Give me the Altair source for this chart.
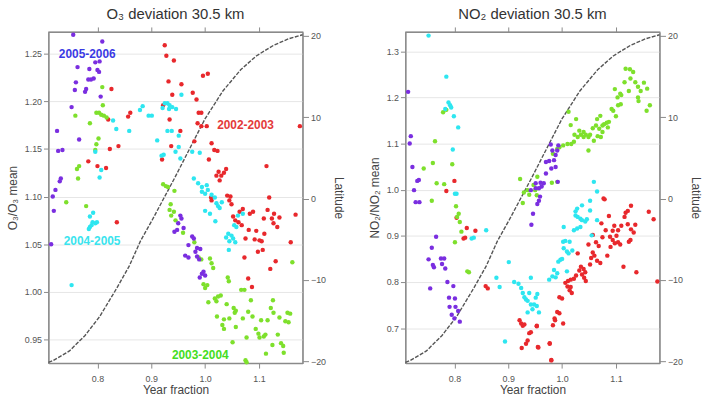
import altair as alt
import pandas as pd

# ---------------------------------------------------------------- data
SEASONS = ["2002-2003", "2003-2004", "2004-2005", "2005-2006"]
SEASON_COLORS = ["#e8282c", "#7ee02c", "#2ee6f0", "#7a2ee0"]

# O3 deviation at 30.5 km: (year fraction, O3 / O3 mean)
o3_0203 = [(0.925, 1.259), (0.928, 1.248), (0.942, 1.243), (0.932, 1.221), (0.956, 1.218),
           (0.939, 1.207), (0.996, 1.227), (1.005, 1.229), (0.977, 1.209), (0.984, 1.202),
           (0.826, 1.213), (0.820, 1.181), (0.857, 1.184), (0.861, 1.188), (0.823, 1.150),
           (0.839, 1.153), (0.783, 1.137), (0.800, 1.132), (0.816, 1.130), (0.922, 1.196),
           (0.934, 1.181), (0.954, 1.169), (0.937, 1.153), (0.920, 1.139), (0.988, 1.188),
           (0.993, 1.188), (0.986, 1.177), (0.993, 1.174), (1.003, 1.174), (0.980, 1.158),
           (1.012, 1.156), (1.017, 1.149), (1.023, 1.148), (1.007, 1.139), (1.025, 1.126),
           (1.021, 1.122), (1.030, 1.122), (1.035, 1.125), (1.039, 1.129), (1.027, 1.117),
           (1.114, 1.132), (1.176, 1.174), (1.041, 1.101), (1.047, 1.100), (1.119, 1.099),
           (1.011, 1.099), (0.836, 1.073), (1.012, 1.096), (1.045, 1.096), (1.049, 1.092),
           (1.070, 1.087), (1.064, 1.084), (1.052, 1.079), (1.056, 1.075), (1.062, 1.073),
           (1.068, 1.070), (1.083, 1.082), (1.089, 1.084), (1.109, 1.077), (1.116, 1.086),
           (1.128, 1.082), (1.124, 1.077), (1.138, 1.078), (1.127, 1.072), (1.134, 1.068),
           (1.168, 1.081), (1.081, 1.065), (1.095, 1.064), (1.110, 1.061), (1.075, 1.056),
           (1.092, 1.055), (1.101, 1.054), (1.105, 1.053), (1.159, 1.052), (1.107, 1.044),
           (1.098, 1.042), (1.073, 1.036), (1.131, 1.032), (1.121, 1.024), (1.080, 1.014),
           (1.087, 1.005)]
o3_0304 = [(0.809, 1.215), (0.810, 1.196), (0.759, 1.185), (0.798, 1.188), (0.803, 1.188),
           (0.807, 1.186), (0.812, 1.185), (0.817, 1.183), (0.786, 1.177), (0.802, 1.161),
           (0.798, 1.155), (0.796, 1.149), (0.766, 1.132), (0.762, 1.129), (0.764, 1.119),
           (0.922, 1.113), (0.927, 1.111), (0.931, 1.110), (0.943, 1.106), (0.742, 1.094),
           (0.779, 1.090), (0.936, 1.092), (0.934, 1.086), (0.942, 1.084), (0.937, 1.080),
           (0.945, 1.075), (0.959, 1.062), (0.980, 1.052), (0.988, 1.036), (0.993, 1.034),
           (1.009, 1.035), (1.012, 1.030), (1.015, 1.025), (1.042, 1.015), (1.044, 1.011),
           (1.000, 1.004), (1.004, 1.007), (0.997, 1.008), (1.067, 1.002), (1.073, 1.002),
           (1.085, 0.991), (1.006, 0.989), (1.018, 0.993), (1.024, 0.995), (1.029, 0.996),
           (1.021, 0.990), (1.040, 0.987), (1.053, 0.983), (1.057, 0.980), (1.055, 0.978),
           (1.022, 0.974), (1.045, 0.972), (1.070, 0.972), (1.080, 0.979), (1.088, 0.974),
           (1.126, 0.991), (1.122, 0.983), (1.127, 0.978), (1.104, 0.970), (1.116, 0.970),
           (1.138, 0.973), (1.153, 0.978), (1.158, 0.977), (1.149, 0.969), (1.155, 0.968),
           (1.162, 1.031), (1.032, 0.965), (1.035, 0.961), (1.057, 0.963), (1.094, 0.961),
           (1.099, 0.956), (1.101, 0.952), (1.109, 0.953), (1.112, 0.955), (1.077, 0.952),
           (1.051, 0.947), (1.135, 0.955), (1.141, 0.946), (1.145, 0.943), (1.125, 0.944),
           (1.146, 0.936), (1.113, 0.935), (1.075, 0.928), (1.077, 0.926), (1.035, 0.971)]
o3_0405 = [(0.956, 1.207), (0.884, 1.195), (0.879, 1.191), (0.895, 1.185), (0.901, 1.185),
           (0.859, 1.169), (0.835, 1.171), (0.925, 1.198), (0.930, 1.198), (0.934, 1.196),
           (0.939, 1.194), (0.921, 1.193), (0.933, 1.192), (0.946, 1.192), (0.930, 1.169),
           (0.938, 1.169), (0.951, 1.164), (0.911, 1.159), (0.951, 1.152), (0.945, 1.147),
           (0.919, 1.143), (0.923, 1.144), (0.954, 1.140), (0.976, 1.147), (0.990, 1.146),
           (0.796, 1.147), (0.804, 1.120), (0.807, 1.128), (0.829, 1.180), (0.979, 1.119),
           (0.987, 1.114), (0.994, 1.110), (1.003, 1.112), (1.005, 1.107), (0.994, 1.105),
           (1.000, 1.103), (1.012, 1.102), (1.018, 1.099), (0.792, 1.083), (0.786, 1.079),
           (0.791, 1.073), (0.796, 1.072), (0.799, 1.073), (0.786, 1.068), (0.789, 1.070),
           (0.784, 1.066), (0.752, 1.007), (1.000, 1.085), (1.009, 1.082), (1.021, 1.093),
           (1.024, 1.090), (1.027, 1.088), (1.019, 1.074), (1.031, 1.094), (1.043, 1.061),
           (1.049, 1.059), (1.052, 1.056), (1.039, 1.057), (1.045, 1.053), (1.056, 1.052),
           (1.044, 1.044), (1.054, 1.070), (1.058, 1.068), (1.061, 1.080), (1.070, 1.082)]
o3_0506 = [(0.755, 1.270), (0.809, 1.263), (0.804, 1.242), (0.796, 1.241), (0.763, 1.236),
           (0.800, 1.233), (0.803, 1.231), (0.785, 1.234), (0.793, 1.224), (0.788, 1.223),
           (0.783, 1.223), (0.760, 1.220), (0.779, 1.213), (0.777, 1.210), (0.758, 1.212),
           (0.806, 1.205), (0.752, 1.194), (0.766, 1.160), (0.725, 1.169), (0.727, 1.148),
           (0.735, 1.149), (0.732, 1.119), (0.730, 1.116), (0.722, 1.107), (0.717, 1.100),
           (0.719, 1.085), (0.714, 1.050), (0.954, 1.080), (0.956, 1.077), (0.950, 1.072),
           (0.943, 1.063), (0.948, 1.065), (0.960, 1.067), (0.976, 1.058), (0.979, 1.056),
           (0.969, 1.049), (0.985, 1.046), (0.991, 1.045), (0.982, 1.042), (0.963, 1.038),
           (0.969, 1.036), (0.985, 1.037), (0.989, 1.034), (0.997, 1.021), (1.000, 1.017),
           (0.990, 1.015), (0.994, 1.019)]

# NO2 deviation at 30.5 km: (year fraction, NO2 / NO2 mean)
no2_0203 = [(0.800, 1.019), (0.785, 0.997), (1.077, 0.981), (0.804, 0.939), (0.823, 0.917),
            (0.839, 0.911), (0.817, 0.894), (0.820, 0.896), (0.858, 0.791), (0.862, 0.786),
            (0.921, 0.717), (0.924, 0.710), (0.927, 0.705), (0.930, 0.708), (0.939, 0.689),
            (0.942, 0.691), (0.936, 0.673), (0.933, 0.666), (0.925, 0.657), (0.953, 0.705),
            (0.955, 0.659), (0.977, 0.667), (0.980, 0.630), (1.079, 0.979), (1.128, 0.965),
            (1.118, 0.950), (1.122, 0.954), (1.116, 0.941), (1.087, 0.943), (1.161, 0.952),
            (1.170, 0.936), (1.073, 0.927), (1.097, 0.922), (1.110, 0.922), (1.122, 0.925),
            (1.136, 0.924), (1.081, 0.912), (1.094, 0.911), (1.104, 0.912), (1.128, 0.914),
            (1.133, 0.907), (1.057, 0.902), (1.075, 0.897), (1.089, 0.898), (1.101, 0.900),
            (1.127, 0.891), (1.124, 0.887), (1.094, 0.891), (1.098, 0.884), (1.104, 0.886),
            (1.108, 0.881), (1.049, 0.881), (1.063, 0.886), (1.068, 0.878), (1.090, 0.876),
            (1.029, 0.862), (1.057, 0.864), (1.060, 0.857), (1.054, 0.852), (1.084, 0.857),
            (1.065, 0.846), (1.071, 0.841), (1.052, 0.838), (1.035, 0.833), (1.040, 0.828),
            (1.032, 0.825), (1.043, 0.821), (1.037, 0.816), (1.114, 0.833), (1.138, 0.821),
            (1.177, 0.801), (1.026, 0.814), (1.022, 0.807), (1.041, 0.809), (1.044, 0.802),
            (1.016, 0.805), (1.011, 0.802), (1.006, 0.798), (1.010, 0.790), (1.016, 0.789),
            (1.014, 0.782), (1.018, 0.776), (0.995, 0.767), (1.000, 0.764), (0.991, 0.735),
            (0.995, 0.732), (0.986, 0.721), (0.987, 0.717), (0.983, 0.706), (1.002, 0.710),
            (0.953, 0.704), (0.977, 0.666), (0.956, 0.658), (0.980, 0.631)]
no2_0304 = [(0.779, 1.168), (0.785, 1.173), (0.764, 1.105), (0.760, 1.058), (0.743, 1.046),
            (0.796, 1.055), (0.767, 1.014), (0.781, 1.012), (0.922, 1.023), (1.118, 1.262),
            (1.126, 1.261), (1.132, 1.255), (1.127, 1.241), (1.116, 1.233), (1.136, 1.233),
            (1.152, 1.232), (1.141, 1.223), (1.158, 1.219), (1.124, 1.214), (1.146, 1.214),
            (1.098, 1.218), (1.108, 1.208), (1.103, 1.200), (1.110, 1.205), (1.141, 1.200),
            (1.142, 1.192), (1.109, 1.185), (1.104, 1.183), (1.163, 1.183), (1.157, 1.171),
            (1.092, 1.175), (1.095, 1.171), (1.071, 1.160), (1.100, 1.159), (1.087, 1.147),
            (1.083, 1.145), (1.078, 1.142), (1.065, 1.153), (1.075, 1.139), (1.085, 1.135),
            (1.063, 1.139), (1.057, 1.133), (1.069, 1.132), (1.075, 1.125), (1.066, 1.116),
            (1.059, 1.106), (1.072, 1.114), (1.026, 1.153), (1.012, 1.169), (1.016, 1.140),
            (1.032, 1.128), (1.040, 1.125), (1.023, 1.119), (1.035, 1.119), (1.044, 1.119),
            (1.040, 1.114), (1.049, 1.114), (1.052, 1.119), (1.029, 1.114), (1.022, 1.104),
            (1.017, 1.099), (1.010, 1.099), (1.002, 1.096), (0.995, 1.092), (0.991, 1.088),
            (1.049, 1.085), (0.983, 1.078), (0.981, 1.015), (0.991, 1.017), (0.954, 1.028),
            (0.947, 1.010), (0.950, 0.999), (0.953, 0.988), (0.936, 0.999), (0.929, 0.994),
            (0.939, 0.989), (0.927, 0.971), (0.758, 0.976), (0.803, 0.964), (0.808, 0.948),
            (0.805, 0.941), (0.810, 0.930), (0.813, 0.909), (0.801, 0.886), (0.824, 0.823),
            (0.827, 0.821)]
no2_0405 = [(0.752, 1.334), (0.785, 1.245), (0.789, 1.189), (0.792, 1.183), (0.783, 1.175),
            (0.794, 1.178), (0.799, 1.159), (0.807, 1.135), (0.797, 1.087), (0.801, 0.991),
            (0.804, 0.991), (1.059, 1.017), (1.065, 0.996), (0.859, 0.912), (0.832, 0.894),
            (0.836, 0.896), (0.901, 0.843), (0.878, 0.809), (0.884, 0.789), (0.911, 0.800),
            (0.919, 0.796), (0.924, 0.787), (0.927, 0.776), (0.930, 0.767), (0.933, 0.762),
            (0.939, 0.776), (0.936, 0.759), (0.942, 0.751), (0.936, 0.734), (0.954, 0.774),
            (0.951, 0.766), (0.948, 0.751), (0.953, 0.748), (0.957, 0.734), (0.945, 0.741),
            (0.894, 0.671), (0.942, 0.809), (0.976, 0.805), (0.982, 0.812), (0.988, 0.810),
            (0.991, 0.819), (1.009, 0.823), (0.985, 0.826), (0.993, 0.844), (0.997, 0.848),
            (1.000, 0.850), (1.003, 0.873), (1.009, 0.866), (1.012, 0.862), (1.019, 0.868),
            (1.014, 0.887), (1.002, 0.887), (1.006, 0.889), (1.003, 0.919), (1.022, 0.912),
            (1.028, 0.916), (1.034, 0.919), (1.025, 0.944), (1.029, 0.941), (1.034, 0.937),
            (1.037, 0.934), (1.043, 0.931), (1.046, 0.936), (1.028, 0.959), (1.025, 0.953),
            (1.037, 0.966), (1.055, 0.901), (1.065, 0.934), (1.052, 0.955), (1.052, 0.976)]
no2_0506 = [(0.714, 1.212), (0.719, 1.116), (0.717, 1.100), (0.722, 1.049), (0.731, 1.019),
            (0.734, 1.021), (0.725, 0.999), (0.979, 1.098), (0.982, 1.085), (0.993, 1.096),
            (0.991, 1.085), (0.988, 1.075), (0.985, 1.064), (0.976, 1.062), (0.970, 1.060),
            (0.980, 1.046), (0.988, 1.049), (0.970, 1.035), (0.992, 1.017), (0.960, 1.015),
            (0.966, 1.014), (0.962, 1.007), (0.951, 1.003), (0.957, 1.003), (0.951, 1.014),
            (0.959, 0.985), (0.942, 0.999), (0.728, 0.973), (0.735, 0.973), (0.954, 0.969),
            (0.957, 0.976), (0.946, 0.948), (0.943, 0.924), (0.766, 0.898), (0.758, 0.874),
            (0.752, 0.849), (0.760, 0.837), (0.762, 0.832), (0.775, 0.851), (0.781, 0.851),
            (0.777, 0.839), (0.783, 0.829), (0.787, 0.800), (0.798, 0.791), (0.755, 0.786),
            (0.790, 0.766), (0.801, 0.764), (0.791, 0.746), (0.802, 0.746), (0.807, 0.737),
            (0.795, 0.729), (0.800, 0.721), (0.810, 0.714)]

# Tangent-point latitude along the orbit: (year fraction, latitude)
latitude_track = [(0.709, -20.1), (0.717, -19.9), (0.748, -18.7), (0.777, -16.8), (0.804, -14.5),
                  (0.835, -11.1), (0.859, -8.3), (0.880, -5.2), (0.902, -2.6), (0.923, 0.0),
                  (0.944, 2.6), (0.975, 6.6), (1.000, 9.8), (1.033, 13.2), (1.066, 15.8),
                  (1.095, 17.5), (1.127, 18.8), (1.155, 19.6), (1.181, 20.1)]

# Season annotations in the ozone panel: (text, x, y, colour)
o3_labels = [("2005-2006", 0.781, 1.250, "#3a3ae4"),
             ("2002-2003", 1.075, 1.175, "#e43a3a"),
             ("2004-2005", 0.790, 1.053, "#3ae4ee"),
             ("2003-2004", 0.991, 0.934, "#44dd22")]

X_DOMAIN = [0.709, 1.181]
X_TICKS = [0.8, 0.9, 1.0, 1.1]
LAT_DOMAIN = [-20.2, 20.45]
LAT_TICKS = [-20, -10, 0, 10, 20]

FONT = "Liberation Sans"
FRAME = "#8a8a8a"
TEXT = "#555555"


def season_frame(groups):
    rows = []
    for season, pts in zip(SEASONS, groups):
        for x, y in pts:
            rows.append({"season": season, "x": x, "y": y})
    return pd.DataFrame(rows)


def panel(groups, title, y_title, y_domain, y_ticks, y_format, labels=None):
    xs = alt.Scale(domain=X_DOMAIN, nice=False, zero=False)
    ys = alt.Scale(domain=y_domain, nice=False, zero=False)

    track = alt.Chart(pd.DataFrame(latitude_track, columns=["x", "lat"])).mark_line(
        color="#555555", strokeWidth=1.4, strokeDash=[4, 1.5]
    ).encode(
        x=alt.X("x:Q", scale=xs,
                axis=alt.Axis(orient="top", values=X_TICKS, labels=False, title=None,
                              grid=False, tickSize=5)),
        y=alt.Y("lat:Q", scale=alt.Scale(domain=LAT_DOMAIN, nice=False, zero=False),
                axis=alt.Axis(orient="right", values=LAT_TICKS, title="Latitude",
                              grid=False, tickSize=6, titlePadding=6)),
    )

    points = alt.Chart(season_frame(groups)).mark_circle(size=20, opacity=1).encode(
        x=alt.X("x:Q", scale=xs,
                axis=alt.Axis(values=X_TICKS, format=".1f", title="Year fraction",
                              grid=False, tickSize=5, labelPadding=7, titlePadding=1)),
        y=alt.Y("y:Q", scale=ys,
                axis=alt.Axis(values=y_ticks, format=y_format, title=y_title,
                              grid=True, tickSize=5, titlePadding=5)),
        color=alt.Color("season:N", scale=alt.Scale(domain=SEASONS, range=SEASON_COLORS),
                        legend=None),
    )

    layers = [track, points]
    if labels:
        lab = pd.DataFrame(labels, columns=["text", "x", "y", "c"])
        layers.append(
            alt.Chart(lab).mark_text(font=FONT, fontSize=12, fontWeight="bold").encode(
                x=alt.X("x:Q", scale=xs, axis=None),
                y=alt.Y("y:Q", scale=ys, axis=None),
                text="text:N",
                color=alt.Color("c:N", scale=None),
            )
        )

    return alt.layer(*layers).resolve_scale(x="independent", y="independent").properties(
        width=257, height=335,
        title=alt.TitleParams(title, fontSize=15, font=FONT, fontWeight="normal",
                              color="#333333", offset=5),
    )


left = panel([o3_0203, o3_0304, o3_0405, o3_0506], "O\u2083 deviation 30.5  km",
             "O\u2083/O\u2083 mean", [0.925, 1.273], [0.95, 1.00, 1.05, 1.10, 1.15, 1.20, 1.25],
             ".2f", o3_labels)
right = panel([no2_0203, no2_0304, no2_0405, no2_0506], "NO\u2082 deviation 30.5  km",
              "NO\u2082/NO\u2082 mean", [0.624, 1.342], [0.7, 0.8, 0.9, 1.0, 1.1, 1.2, 1.3],
              ".1f")

chart = alt.hconcat(left, right, spacing=22).properties(
    padding={"left": 5, "top": 3, "right": 5, "bottom": 0}
).configure_view(
    stroke=FRAME, strokeWidth=1.2
).configure_axis(
    domainColor=FRAME, domainWidth=1.2, tickColor=FRAME, tickWidth=1,
    labelFont=FONT, labelFontSize=9, labelColor=TEXT,
    titleFont=FONT, titleFontSize=12, titleFontWeight="normal", titleColor="#444444",
    gridColor="#e6e6e6", gridWidth=1,
)

chart.save("out.html", embed_options={"renderer": "svg", "actions": False})
